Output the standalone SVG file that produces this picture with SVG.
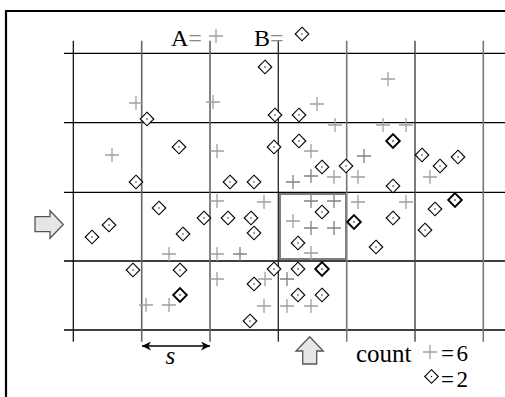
<svg xmlns="http://www.w3.org/2000/svg" xmlns:xlink="http://www.w3.org/1999/xlink" width="505" height="397" viewBox="0 0 505 397">
<style>
.t{font-family:"Liberation Serif","Times New Roman",serif;fill:#000}
.hl{stroke:#000;stroke-width:1.3}
.pl{fill:none;stroke:#a0a0a0;stroke-width:1.3}
.pd{fill:none;stroke:#808080;stroke-width:1.3}
.dm{fill:#fff;stroke:#000;stroke-width:1.1}
.db{fill:#fff;stroke:#000;stroke-width:1.9}
.blk{fill:#e6e6e6;stroke:#555;stroke-width:1.3}
</style>
<defs>
<path id="p" class="pl" d="M-7,0H7M0,-7V7"/>
<path id="q" class="pd" d="M-7,0H7M0,-7V7"/>
<g id="d"><path class="dm" d="M0,-6.8L6.8,0L0,6.8L-6.8,0Z"/><circle r="0.7" fill="#000"/></g>
<g id="e"><path class="db" d="M0,-6.8L6.8,0L0,6.8L-6.8,0Z"/><circle r="0.8" fill="#000"/></g>
<marker id="ah" viewBox="0 0 10 10" refX="10" refY="5" markerWidth="11" markerHeight="9" markerUnits="userSpaceOnUse" orient="auto-start-reverse"><path d="M0,0L10,5L0,10L3,5Z" fill="#000"/></marker>
</defs>
<rect width="505" height="397" fill="#fff"/>
<path id="frame" d="M6,397V11H505" fill="none" stroke="#000" stroke-width="2.2"/>
<g id="grid">
<path class="hl" d="M64,53.3H505M64,122.7H505M64,192.3H505M64,261H505M64,330H505"/>
<path stroke="#000" stroke-width="1.2" d="M73.3,40.7V341.7"/>
<path stroke="#666" stroke-width="1.6" d="M141.7,40.7V341.7M210,40.7V341.7"/>
<path stroke="#222" stroke-width="1.3" d="M278.3,40.7V341.7"/>
<path stroke="#777" stroke-width="1.6" d="M346.7,40.7V341.7M483.3,40.7V341.7"/>
<path stroke="#444" stroke-width="1.4" d="M415,40.7V341.7"/>
</g>
<rect id="cell" x="280" y="194" width="66" height="65" fill="none" stroke="#808080" stroke-width="2"/>
<g id="pointsA">
<use href="#p" x="136" y="103"/><use href="#p" x="213" y="102"/><use href="#p" x="317" y="104"/>
<use href="#p" x="388" y="79"/><use href="#p" x="335" y="125"/><use href="#p" x="383" y="125"/>
<use href="#p" x="406" y="125"/><use href="#p" x="112" y="155"/><use href="#p" x="217" y="151"/>
<use href="#p" x="311" y="151"/><use href="#q" x="364" y="156"/><use href="#q" x="293" y="182"/>
<use href="#q" x="311" y="176"/><use href="#p" x="334" y="177"/><use href="#p" x="358" y="177"/>
<use href="#p" x="430" y="177"/><use href="#p" x="217" y="201"/><use href="#p" x="264" y="202"/>
<use href="#q" x="311" y="201"/><use href="#q" x="334" y="201"/><use href="#p" x="358" y="202"/>
<use href="#p" x="406" y="202"/><use href="#p" x="293" y="221"/><use href="#q" x="311" y="228"/>
<use href="#q" x="334" y="228"/><use href="#p" x="169" y="254"/><use href="#p" x="217" y="254"/>
<use href="#q" x="240" y="254"/><use href="#p" x="311" y="253"/><use href="#p" x="217" y="279"/>
<use href="#p" x="265" y="279"/><use href="#q" x="287" y="279"/><use href="#p" x="146" y="305"/>
<use href="#p" x="169" y="305"/><use href="#p" x="264" y="306"/><use href="#p" x="287" y="306"/>
<use href="#p" x="311" y="306"/>
</g>
<g id="pointsB">
<use href="#d" x="265" y="67"/><use href="#d" x="147" y="119"/><use href="#d" x="275" y="115"/>
<use href="#d" x="299" y="115"/><use href="#d" x="179" y="147"/><use href="#d" x="274" y="147"/>
<use href="#d" x="299" y="141"/><use href="#e" x="393" y="141"/><use href="#d" x="422" y="155"/>
<use href="#d" x="458" y="157"/><use href="#d" x="136" y="182"/><use href="#d" x="230" y="182"/>
<use href="#d" x="254" y="182"/><use href="#d" x="322" y="167"/><use href="#d" x="346" y="166"/>
<use href="#d" x="440" y="166"/><use href="#d" x="393" y="186"/><use href="#d" x="159" y="208"/>
<use href="#d" x="109" y="225"/><use href="#d" x="92" y="237"/><use href="#d" x="204" y="218"/>
<use href="#d" x="228" y="218"/><use href="#d" x="251" y="218"/><use href="#d" x="254" y="233"/>
<use href="#d" x="183" y="234"/><use href="#d" x="322" y="212"/><use href="#d" x="298" y="243"/>
<use href="#e" x="354" y="222"/><use href="#d" x="393" y="218"/><use href="#e" x="455" y="200"/>
<use href="#d" x="435" y="209"/><use href="#d" x="425" y="230"/><use href="#d" x="376" y="247"/>
<use href="#d" x="133" y="270"/><use href="#d" x="180" y="270"/><use href="#e" x="180" y="295"/>
<use href="#d" x="274" y="269"/><use href="#d" x="298" y="269"/><use href="#e" x="322" y="269"/>
<use href="#d" x="254" y="284"/><use href="#d" x="298" y="295"/><use href="#d" x="322" y="295"/>
<use href="#d" x="250" y="321"/>
</g>
<g id="legendTop">
<text class="t" x="171" y="46" font-size="24">A<tspan fill="#888">=</tspan></text>
<use href="#p" x="216" y="36"/>
<text class="t" x="254" y="46" font-size="24">B<tspan fill="#888">=</tspan></text>
<use href="#d" x="302" y="34"/>
</g>
<g id="arrowRight"><path class="blk" d="M35,216.7H50V210.7L63.3,224.5L50,238.3V231.7H35Z"/></g>
<g id="arrowUp"><path class="blk" d="M309.7,336.7L323.3,351H316.7V364H302.7V351H296Z"/></g>
<g id="connectors">
<line x1="142" y1="346" x2="210" y2="346" stroke="#000" stroke-width="1.3" marker-start="url(#ah)" marker-end="url(#ah)"/>
</g>
<text class="t" x="165.5" y="364" font-size="25" font-style="italic">s</text>
<g id="legendBottom">
<text class="t" x="356" y="362" font-size="25">count</text>
<use href="#p" x="430" y="352"/>
<text class="t" x="441" y="361" font-size="23" letter-spacing="2.5">=6</text>
<use href="#d" x="431.5" y="376.5"/>
<text class="t" x="441" y="387" font-size="23" letter-spacing="2.5">=2</text>
</g>
</svg>
